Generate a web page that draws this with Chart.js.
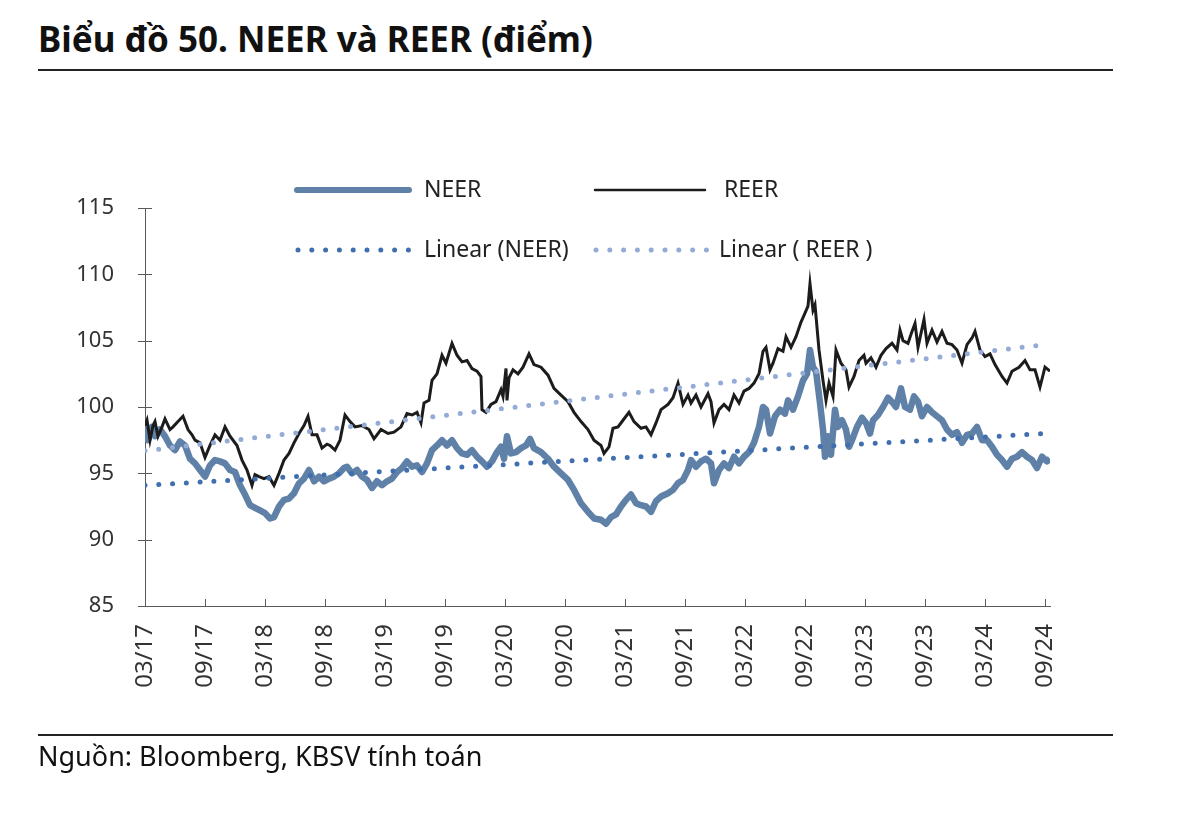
<!DOCTYPE html>
<html lang="vi">
<head>
<meta charset="utf-8">
<title>NEER và REER</title>
<script src="https://cdn.jsdelivr.net/npm/chart.js@4.4.1/dist/chart.umd.min.js"></script>
<style>
  body { margin: 0; background: #fff; font-family: "Noto Sans", sans-serif; }
  #page { position: relative; width: 1200px; height: 813px; overflow: hidden; }
  #title { position: absolute; left: 38px; top: 15px; font-size: 35px; font-weight: bold; color: #111; white-space: nowrap; }
  .rule { position: absolute; left: 38px; width: 1075px; height: 0; border-top: 2px solid #222; }
  #source { position: absolute; left: 38px; top: 737px; font-size: 27px; color: #111; white-space: nowrap; }
  #chart-box { position: absolute; left: 0; top: 0; width: 1200px; height: 813px; }
</style>
</head>
<body>
<div id="page">
  <div id="title">Biểu đồ 50. NEER và REER (điểm)</div>
  <div class="rule" style="top:69px"></div>
  <div id="chart-box"><canvas id="neer-chart"></canvas></div>
  <div class="rule" style="top:734px"></div>
  <div id="source">Nguồn: Bloomberg, KBSV tính toán</div>
</div>
<script>
// x values are months counted from 03/2017
var tickMonths = [0, 6, 12, 18, 24, 30, 36, 42, 48, 54, 60, 66, 72, 78, 84, 90];
var tickLabels = ['03/17', '09/17', '03/18', '09/18', '03/19', '09/19', '03/20', '09/20',
                  '03/21', '09/21', '03/22', '09/22', '03/23', '09/23', '03/24', '09/24'];

var reerMonths = [0, 0.2, 0.5, 0.8, 1, 1.3, 1.7, 2, 2.5, 2.8, 3.3, 3.8, 4.3, 4.7, 5, 5.5, 6, 6.5, 7, 7.5,
  8, 8.5, 9.2, 9.7, 10.2, 10.7, 11, 11.4, 11.9, 12.4, 12.9, 13.4, 13.9, 14.4, 14.9, 15.4, 15.9, 16.3, 16.7, 17.2,
  17.7, 18.2, 18.5, 19, 19.5, 20, 20.5, 21, 21.7, 22.4, 22.9, 23.6, 24.3, 24.9, 25.6, 26.2, 26.7, 27.2, 27.6, 27.9,
  28.4, 28.7, 29.2, 29.7, 30.1, 30.7, 31.2, 31.7, 32.2, 32.7, 33.2, 33.6, 33.7, 34.1, 34.6, 35.1, 35.6, 35.8, 36.1, 36.2,
  36.4, 36.8, 37.3, 37.8, 38.4, 38.9, 39.6, 40.3, 40.9, 41.6, 42.3, 42.9, 43.6, 44.3, 44.9, 45.6, 45.9, 46.4, 46.8, 47.3,
  47.8, 48.4, 48.9, 49.6, 50.1, 50.6, 51.1, 51.6, 52.3, 52.8, 53.3, 53.8, 54.3, 54.6, 55.1, 55.6, 56.3, 56.6, 56.9, 57.4,
  57.9, 58.4, 58.9, 59.4, 59.9, 60.4, 60.9, 61.4, 61.8, 62.1, 62.5, 62.8, 63.3, 63.8, 64.1, 64.6, 65.1, 65.6, 65.9, 66.3,
  66.5, 66.8, 67, 67.4, 67.8, 68.1, 68.4, 68.8, 69.1, 69.6, 70.1, 70.4, 70.9, 71.4, 71.9, 72.1, 72.6, 73.1, 73.6, 74.1,
  74.7, 75.2, 75.5, 75.8, 76.3, 76.7, 77, 77.3, 77.9, 78.2, 78.7, 79.2, 79.7, 80.2, 80.7, 81.2, 81.7, 82.2, 82.7, 83,
  83.5, 84, 84.5, 85, 85.7, 86.2, 86.7, 87.4, 88, 88.5, 89, 89.5, 90, 90.5];
var reerValues = [98.6, 99.0, 97.5, 98.6, 98.9, 97.8, 98.5, 99.1, 98.3, 98.5, 98.9, 99.3, 98.3, 97.9, 97.5, 97.3, 96.2, 97.1, 97.9, 97.5,
  98.5, 97.8, 97.1, 96.0, 95.25, 94.1, 94.9, 94.75, 94.6, 94.75, 94.1, 95.0, 96.0, 96.5, 97.3, 98.0, 98.6, 99.3, 97.9, 97.9,
  96.9, 97.2, 97.1, 96.75, 97.5, 99.4, 98.9, 98.5, 98.6, 98.3, 97.6, 98.3, 98.0, 98.1, 98.5, 99.5, 99.4, 99.6, 98.8, 100.3,
  100.5, 102.0, 102.5, 103.9, 103.3, 104.8, 103.9, 103.4, 103.5, 102.9, 102.7, 102.3, 99.8, 99.6, 100.2, 100.4, 101.3, 100.8, 102.9, 100.5,
  102.2, 102.8, 102.5, 103.0, 104.0, 103.2, 103.0, 102.4, 101.4, 100.9, 100.4, 99.6, 98.9, 98.3, 97.5, 97.1, 96.5, 97.0, 98.4, 98.5,
  99.0, 99.6, 98.9, 98.4, 98.5, 97.9, 98.8, 99.8, 100.2, 100.7, 101.8, 100.2, 100.9, 100.3, 100.9, 100.0, 101.0, 100.4, 98.8, 99.8,
  100.2, 99.8, 100.9, 100.3, 101.2, 101.4, 101.8, 102.5, 104.2, 104.5, 102.8, 103.3, 104.4, 104.2, 105.3, 104.5, 105.3, 106.4, 106.9, 107.6,
  109.3, 107.3, 107.7, 104.3, 102.0, 100.5, 101.8, 100.8, 104.3, 103.3, 102.8, 101.5, 102.3, 103.5, 103.9, 103.3, 103.7, 103.0, 103.9, 104.4,
  104.8, 104.3, 105.8, 105.0, 104.8, 105.7, 106.3, 104.5, 106.6, 104.8, 105.8, 104.9, 105.7, 104.8, 104.7, 104.3, 103.3, 104.7, 105.2, 105.7,
  104.3, 103.8, 104.0, 103.2, 102.3, 101.8, 102.7, 103.0, 103.5, 102.8, 102.8, 101.5, 103.0, 102.7];

var neerMonths = [0, 0.3, 0.7, 1, 1.5, 2, 2.5, 3, 3.5, 4, 4.5, 5, 5.5, 6, 6.5, 7, 7.5, 8, 8.5, 9,
  9.5, 10, 10.5, 11, 11.5, 12, 12.5, 12.9, 13.4, 13.9, 14.4, 14.9, 15.4, 15.9, 16.4, 16.9, 17.4, 17.9, 18.4, 18.9,
  19.4, 19.9, 20.2, 20.7, 21.2, 21.7, 22.2, 22.7, 23.2, 23.7, 24.2, 24.7, 25.2, 25.7, 26.2, 26.7, 27.2, 27.7, 28.2, 28.7,
  29.2, 29.7, 30.2, 30.7, 31.2, 31.7, 32.2, 32.7, 33.2, 33.7, 34.2, 34.7, 35.2, 35.6, 35.9, 36.2, 36.6, 37.1, 37.6, 38.1,
  38.5, 38.9, 39.6, 40.3, 40.9, 41.6, 42.3, 42.9, 43.6, 44.3, 44.9, 45.6, 46.1, 46.6, 47.1, 47.6, 48.1, 48.6, 49.1, 49.6,
  50.1, 50.6, 51.1, 51.6, 52.3, 52.8, 53.3, 53.8, 54.3, 54.6, 55.1, 55.6, 56.1, 56.6, 56.9, 57.4, 57.9, 58.4, 58.9, 59.4,
  59.9, 60.4, 60.9, 61.4, 61.8, 62.1, 62.5, 63, 63.5, 64, 64.3, 64.8, 65.3, 65.8, 66.2, 66.5, 66.8, 67.1, 67.5, 67.8,
  68, 68.3, 68.6, 69, 69.3, 69.7, 70.1, 70.4, 70.7, 71.2, 71.7, 72.1, 72.5, 72.8, 73.3, 73.8, 74.3, 74.8, 75.1, 75.6,
  76, 76.5, 76.9, 77.3, 77.7, 78.2, 78.7, 79.2, 79.7, 80.2, 80.7, 81.2, 81.7, 82.2, 82.7, 83.2, 83.7, 84.2, 84.7, 85.2,
  85.7, 86.2, 86.7, 87.2, 87.7, 88.2, 88.7, 89.2, 89.7, 90.2, 90.5];
var neerValues = [98.5, 97.5, 98.5, 97.8, 98.3, 97.8, 97.1, 96.75, 97.4, 97.1, 96.1, 95.75, 95.25, 94.75, 95.6, 96.0, 95.9, 95.75, 95.25, 95.1,
  94.1, 93.4, 92.6, 92.4, 92.2, 92.0, 91.6, 91.7, 92.5, 93.0, 93.1, 93.5, 94.25, 94.6, 95.25, 94.4, 94.75, 94.4, 94.6, 94.75,
  95.0, 95.4, 95.5, 95.0, 95.25, 94.75, 94.5, 93.9, 94.4, 94.1, 94.4, 94.6, 95.1, 95.4, 95.9, 95.5, 95.6, 95.1, 95.75, 96.75,
  97.1, 97.5, 97.1, 97.5, 96.9, 96.5, 96.4, 96.75, 96.25, 95.9, 95.5, 95.9, 96.6, 97.0, 96.1, 97.8, 96.5, 96.6, 96.9, 97.1,
  97.6, 96.9, 96.6, 96.1, 95.5, 95.0, 94.5, 93.75, 92.75, 92.1, 91.6, 91.5, 91.2, 91.7, 91.9, 92.5, 93.0, 93.4, 92.75, 92.6,
  92.5, 92.1, 92.9, 93.25, 93.5, 93.75, 94.25, 94.5, 95.25, 96.0, 95.5, 95.9, 96.1, 95.75, 94.25, 95.25, 95.75, 95.4, 96.25, 95.75,
  96.25, 96.6, 97.3, 98.5, 100.0, 99.8, 98.0, 99.3, 99.8, 99.5, 100.5, 99.8, 100.8, 102.0, 102.5, 104.3, 103.0, 102.7, 100.3, 98.3,
  96.25, 97.8, 96.4, 99.8, 98.5, 99.0, 98.3, 97.0, 97.5, 98.5, 99.2, 98.8, 98.0, 99.0, 99.4, 100.0, 100.7, 100.3, 100.0, 101.4,
  100.0, 99.8, 100.8, 100.4, 99.3, 100.0, 99.6, 99.3, 99.0, 98.3, 97.9, 98.1, 97.3, 97.9, 98.0, 98.5, 97.5, 97.5, 97.0, 96.4,
  96.0, 95.5, 96.1, 96.25, 96.6, 96.25, 96.0, 95.4, 96.25, 95.9, 96.1];

// trend lines: value at the first and last month
var trendMonths = [0, 90];
var neerTrend = [94.1, 98.0];
var reerTrend = [96.7, 104.7];

var neerColor = '#5f80a7';
var reerColor = '#1c1c1c';
var neerTrendColor = '#3f6fae';
var reerTrendColor = '#93abd6';
var dotDash = [0, 13.8];

function toPoints(xs, ys) {
  return xs.map(function (x, i) { return { x: x, y: ys[i] }; });
}

// tick marks: across the y axis, pointing up from the x axis
var axisTicks = {
  id: 'axisTicks',
  afterDraw: function (chart) {
    var ctx = chart.ctx, xs = chart.scales.x, ys = chart.scales.y;
    ctx.save();
    ctx.strokeStyle = '#595959';
    ctx.lineWidth = 1;
    ctx.beginPath();
    ys.ticks.forEach(function (t) {
      var py = Math.round(ys.getPixelForValue(t.value)) + 0.5;
      ctx.moveTo(xs.left - 7, py);
      ctx.lineTo(xs.left + 7, py);
    });
    xs.ticks.forEach(function (t) {
      var px = Math.round(xs.getPixelForValue(t.value)) + 0.5;
      ctx.moveTo(px, ys.bottom);
      ctx.lineTo(px, ys.bottom - 7);
    });
    ctx.stroke();
    ctx.restore();
  }
};

// legend in two rows, drawn by hand
var legendItems = [
  { text: 'NEER', x1: 297, x2: 409, tx: 424, y: 190, color: neerColor, width: 6, dash: [] },
  { text: 'REER', x1: 595, x2: 705, tx: 724, y: 190, color: reerColor, width: 2.5, dash: [] },
  { text: 'Linear (NEER)', x1: 298, x2: 410, tx: 424, y: 250, color: neerTrendColor, width: 5, dash: dotDash },
  { text: 'Linear ( REER )', x1: 596, x2: 708, tx: 719, y: 250, color: reerTrendColor, width: 5, dash: dotDash }
];

var drawLegend = {
  id: 'drawLegend',
  afterDraw: function (chart) {
    var ctx = chart.ctx;
    ctx.save();
    legendItems.forEach(function (item) {
      ctx.beginPath();
      ctx.strokeStyle = item.color;
      ctx.lineWidth = item.width;
      ctx.lineCap = 'round';
      ctx.setLineDash(item.dash);
      ctx.moveTo(item.x1, item.y);
      ctx.lineTo(item.x2, item.y);
      ctx.stroke();
      ctx.setLineDash([]);
      ctx.fillStyle = '#222';
      ctx.font = '23px "Noto Sans"';
      ctx.textBaseline = 'middle';
      ctx.fillText(item.text, item.tx, item.y);
    });
    ctx.restore();
  }
};

var ctx = document.getElementById('neer-chart');
var myChart = new Chart(ctx, {
  type: 'line',
  data: {
    datasets: [
      {
        label: 'Linear (NEER)',
        data: toPoints(trendMonths, neerTrend),
        borderColor: neerTrendColor,
        borderWidth: 5,
        borderDash: dotDash,
        borderCapStyle: 'round',
        pointRadius: 0,
        order: 0
      },
      {
        label: 'Linear ( REER )',
        data: toPoints(trendMonths, reerTrend),
        borderColor: reerTrendColor,
        borderWidth: 5,
        borderDash: dotDash,
        borderCapStyle: 'round',
        pointRadius: 0,
        order: 1
      },
      {
        label: 'REER',
        data: toPoints(reerMonths, reerValues),
        borderColor: reerColor,
        borderWidth: 3,
        pointRadius: 0,
        tension: 0,
        order: 2
      },
      {
        label: 'NEER',
        data: toPoints(neerMonths, neerValues),
        borderColor: neerColor,
        borderWidth: 6.5,
        borderJoinStyle: 'round',
        pointRadius: 0,
        tension: 0,
        order: 3
      }
    ]
  },
  options: {
    responsive: true,
    maintainAspectRatio: false,
    animation: false,
    layout: { padding: { left: 40, right: 150, top: 208, bottom: 107 } },
    plugins: {
      legend: { display: false },
      tooltip: { enabled: false }
    },
    scales: {
      x: {
        type: 'linear',
        min: 0,
        max: 90.5,
        grid: { display: false },
        border: { display: true, color: '#595959', width: 1 },
        afterBuildTicks: function (scale) {
          scale.ticks = tickMonths.map(function (m) { return { value: m }; });
        },
        afterFit: function (scale) { scale.height = 100; },
        ticks: {
          minRotation: 90,
          maxRotation: 90,
          padding: 10,
          color: '#333',
          font: { family: 'Noto Sans', size: 24 },
          callback: function (value) { return tickLabels[tickMonths.indexOf(value)]; }
        }
      },
      y: {
        min: 85,
        max: 115,
        grid: { display: false },
        border: { display: true, color: '#595959', width: 1 },
        afterFit: function (scale) { scale.width = 105; },
        ticks: {
          stepSize: 5,
          padding: 23,
          color: '#333',
          font: { family: 'Noto Sans', size: 22 }
        }
      }
    }
  },
  plugins: [axisTicks, drawLegend]
});
</script>
</body>
</html>
